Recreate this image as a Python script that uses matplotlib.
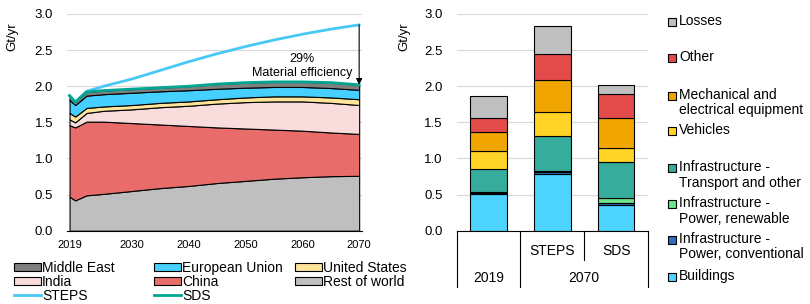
import numpy as np
import matplotlib
matplotlib.use('Agg')
import matplotlib.pyplot as plt
from matplotlib.patches import Patch, Rectangle
from matplotlib.lines import Line2D

plt.rcParams['font.family'] = ['Liberation Sans', 'DejaVu Sans']

# Left chart: material demand by region (Gt/yr), layer thickness per year
years = [2019, 2020, 2022, 2025, 2030, 2035, 2040, 2045, 2050, 2055, 2060, 2065, 2070]
rest_of_world = [0.47, 0.42, 0.49, 0.51, 0.55, 0.59, 0.62, 0.66, 0.69, 0.72, 0.74, 0.755, 0.76]
china = [0.99, 1.01, 1.02, 1.00, 0.94, 0.88, 0.83, 0.77, 0.725, 0.68, 0.645, 0.605, 0.58]
india = [0.08, 0.07, 0.12, 0.15, 0.19, 0.24, 0.28, 0.33, 0.365, 0.39, 0.405, 0.41, 0.40]
united_states = [0.09, 0.08, 0.07, 0.06, 0.06, 0.06, 0.06, 0.06, 0.065, 0.07, 0.07, 0.075, 0.08]
european_union = [0.18, 0.16, 0.17, 0.17, 0.17, 0.16, 0.155, 0.145, 0.135, 0.13, 0.13, 0.13, 0.13]
middle_east = [0.06, 0.04, 0.05, 0.05, 0.05, 0.05, 0.055, 0.065, 0.07, 0.07, 0.07, 0.075, 0.07]
steps = [1.87, 1.78, 1.93, 2.00, 2.10, 2.22, 2.34, 2.45, 2.55, 2.64, 2.72, 2.79, 2.85]

# Right chart: demand by end use (Gt/yr)
bar_labels = ['2019', 'STEPS', 'SDS']
end_uses = ['Buildings', 'Infrastructure -\nPower, conventional', 'Infrastructure -\nPower, renewable',
            'Infrastructure -\nTransport and other', 'Vehicles',
            'Mechanical and\nelectrical equipment', 'Other', 'Losses']
val_2019 = [0.51, 0.015, 0.01, 0.325, 0.24, 0.26, 0.20, 0.31]
val_steps = [0.79, 0.02, 0.02, 0.485, 0.325, 0.44, 0.36, 0.39]
val_sds = [0.36, 0.02, 0.075, 0.495, 0.20, 0.415, 0.33, 0.12]

region_names = ['Rest of world', 'China', 'India', 'United States', 'European Union', 'Middle East']
region_colors = ['#BFBFBF', '#E86C6A', '#F9DCDC', '#FFE49C', '#45D0FF', '#7F7F7F']
use_colors = ['#4DD4FF', '#2E6FC0', '#6EE38B', '#36AC9C', '#FFD426', '#F0A500', '#E34B4B', '#BFBFBF']
steps_color = '#47C8F5'
sds_color = '#00A693'

fig = plt.figure(figsize=(8.1, 3.04), dpi=100)
W, H = 810, 304

def fy(py):
    return 1 - py / H

# ---- left: stacked area ----
ax1 = fig.add_axes([67 / W, fy(230.7), 295 / W, 216.7 / H])
layers = [rest_of_world, china, india, united_states, european_union, middle_east]
ax1.stackplot(years, *layers, colors=region_colors, edgecolor='black', linewidth=0.8, zorder=2)
sds = np.sum(np.array(layers), axis=0)
ax1.plot(years, steps, color=steps_color, lw=2.0, zorder=3)
ax1.plot(years, sds, color=sds_color, lw=2.0, zorder=4)
ax1.annotate('', xy=(years[-1], sds[-1]), xytext=(years[-1], steps[-1]),
             arrowprops=dict(arrowstyle='-|>', color='black', lw=0.8, mutation_scale=9,
                             shrinkA=0, shrinkB=0), zorder=5)
ax1.text(2060, 2.28, '29%\nMaterial efficiency', ha='center', va='center', fontsize=9,
         linespacing=1.15, zorder=6)
ax1.set_xlim(2018.55, 2070.5)
ax1.set_ylim(0, 3)
ax1.set_xticks([2019, 2030, 2040, 2050, 2060, 2070])
ax1.set_yticks(np.arange(0, 3.01, 0.5))
ax1.yaxis.set_major_formatter(plt.FuncFormatter(lambda v, p: f'{v:.1f}'))
ax1.tick_params(axis='x', length=0, pad=7, labelsize=8)
ax1.tick_params(axis='y', length=0, pad=10, labelsize=9.5)
ax1.grid(axis='y', color='#D9D9D9', lw=0.8)
ax1.set_axisbelow(True)
for s in ['left', 'top', 'right']:
    ax1.spines[s].set_visible(False)
ax1.spines['bottom'].set_color('black')

# legend below the area chart, three columns
h = {n: Patch(facecolor=c, edgecolor='black', lw=0.8) for n, c in zip(region_names, region_colors)}
h['STEPS'] = Line2D([], [], color=steps_color, lw=2.0)
h['SDS'] = Line2D([], [], color=sds_color, lw=2.0)
cols = [['Middle East', 'India', 'STEPS'],
        ['European Union', 'China', 'SDS'],
        ['United States', 'Rest of world']]
for x0, names in zip([14, 154, 295], cols):
    fig.legend([h[n] for n in names], names, loc='upper left', bbox_to_anchor=(x0 / W, fy(261)),
               frameon=False, borderpad=0, borderaxespad=0, handlelength=1.92, handleheight=0.53,
               handletextpad=0.1, labelspacing=0.0, fontsize=10)

# ---- right: stacked bars ----
ax2 = fig.add_axes([456.7 / W, fy(230.7), 191.3 / W, 216.7 / H])
x = np.arange(len(bar_labels))
data = np.array([val_2019, val_steps, val_sds])
bottom = np.zeros(len(bar_labels))
for i, name in enumerate(end_uses):
    ax2.bar(x, data[:, i], bottom=bottom, width=0.57, color=use_colors[i],
            edgecolor='black', linewidth=0.8, zorder=2)
    bottom += data[:, i]
ax2.set_xlim(-0.5, 2.5)
ax2.set_ylim(0, 3)
ax2.set_yticks(np.arange(0, 3.01, 0.5))
ax2.yaxis.set_major_formatter(plt.FuncFormatter(lambda v, p: f'{v:.1f}'))
ax2.set_xticks([])
ax2.tick_params(axis='y', length=0, pad=10, labelsize=9.5)
ax2.grid(axis='y', color='#D9D9D9', lw=0.8)
ax2.set_axisbelow(True)
for s in ['left', 'top', 'right']:
    ax2.spines[s].set_visible(False)

# category table under bars
tr = ax2.get_xaxis_transform()
for xv, y_end in [(-0.5, -0.26), (0.5, -0.26), (1.5, -0.135), (2.5, -0.26)]:
    ax2.plot([xv, xv], [0, y_end], transform=tr, color='black', lw=0.8, clip_on=False)
for xi, lab in zip(x[1:], bar_labels[1:]):
    ax2.text(xi, -0.092, lab, transform=tr, ha='center', va='center', fontsize=10)
ax2.text(0, -0.22, '2019', transform=tr, ha='center', va='center', fontsize=10)
ax2.text(1.5, -0.22, '2070', transform=tr, ha='center', va='center', fontsize=10)

# axis titles
fig.text(12 / W, fy(37), 'Gt/yr', rotation=90, ha='center', va='center', fontsize=9.5)
fig.text(404 / W, fy(37), 'Gt/yr', rotation=90, ha='center', va='center', fontsize=9.5)

# manual legend on the right, top entry first
first_line_y = [277, 240, 204, 168, 131, 96, 58, 22]
for name, col, py in zip(end_uses, use_colors, first_line_y):
    fig.add_artist(Rectangle((668 / W, fy(py + 4.2)), 8.3 / W, 8.3 / H, facecolor=col,
                             edgecolor='black', lw=0.8, transform=fig.transFigure))
    fig.text(679 / W, fy(py - 7.6), name, ha='left', va='top', fontsize=10, linespacing=1.1)

fig.savefig('out.png', dpi=100)
